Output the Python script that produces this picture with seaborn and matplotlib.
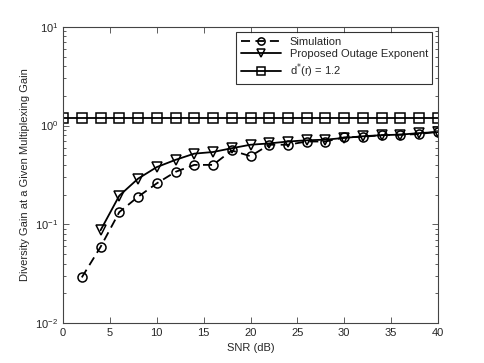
import matplotlib.pyplot as plt
import pandas as pd
import seaborn as sns

snr_sim = [2, 4, 6, 8, 10, 12, 14, 16, 18, 20, 22, 24, 26, 28, 30, 32, 34, 36, 38, 40]
gain_sim = [0.029, 0.059, 0.133, 0.19, 0.26, 0.34, 0.40, 0.40, 0.56, 0.49,
            0.64, 0.64, 0.69, 0.69, 0.76, 0.77, 0.80, 0.81, 0.82, 0.87]

snr_prop = [4, 6, 8, 10, 12, 14, 16, 18, 20, 22, 24, 26, 28, 30, 32, 34, 36, 38, 40]
gain_prop = [0.087, 0.195, 0.29, 0.38, 0.45, 0.52, 0.54, 0.59, 0.64, 0.66,
             0.69, 0.71, 0.72, 0.75, 0.78, 0.80, 0.81, 0.84, 0.86]

snr_dmax = [0, 2, 4, 6, 8, 10, 12, 14, 16, 18, 20, 22, 24, 26, 28, 30, 32, 34, 36, 38, 40]
gain_dmax = [1.2] * len(snr_dmax)

labels = ['Simulation', 'Proposed Outage Exponent', 'd$^{*}$(r) = 1.2']

df = pd.concat([
    pd.DataFrame({'snr': snr_sim, 'gain': gain_sim, 'curve': labels[0]}),
    pd.DataFrame({'snr': snr_prop, 'gain': gain_prop, 'curve': labels[1]}),
    pd.DataFrame({'snr': snr_dmax, 'gain': gain_dmax, 'curve': labels[2]}),
])

sns.set_style('white')
plt.rcParams['font.family'] = ['Liberation Sans', 'DejaVu Sans']
plt.rcParams['font.size'] = 8

fig = plt.figure(figsize=(4.85, 3.63), dpi=100)
ax = fig.add_axes([0.130, 0.110, 0.773, 0.816])

sns.lineplot(data=df, x='snr', y='gain', hue='curve', style='curve',
             palette=['black'] * 3,
             dashes={labels[0]: (5, 3), labels[1]: '', labels[2]: ''},
             markers={labels[0]: 'o', labels[1]: 'v', labels[2]: 's'},
             markersize=6.5, markerfacecolor='none', markeredgecolor='black',
             markeredgewidth=1.1, linewidth=1.3, ax=ax)

ax.set_yscale('log')
ax.set_ylim(0.01, 10)
ax.set_xlim(0, 40)
ax.set_xticks(range(0, 41, 5))
ax.set_xlabel('SNR (dB)', fontsize=8)
ax.set_ylabel('Diversity Gain at a Given Multiplexing Gain', fontsize=8)

ax.tick_params(which='both', direction='in', left=True, bottom=True,
               top=True, right=True, labelsize=8, color='#444444', width=0.6)
ax.tick_params(which='major', length=4)
ax.tick_params(which='minor', length=2)
for s in ax.spines.values():
    s.set_color('#444444')
    s.set_linewidth(0.8)

leg = ax.legend(loc='upper right', fontsize=8, frameon=True, fancybox=False,
                edgecolor='black', handlelength=3.6, borderpad=0.4,
                labelspacing=0.2, markerscale=0.8)
leg.get_frame().set_linewidth(0.8)
leg.set_title(None)

fig.savefig('out.png', dpi=100)
